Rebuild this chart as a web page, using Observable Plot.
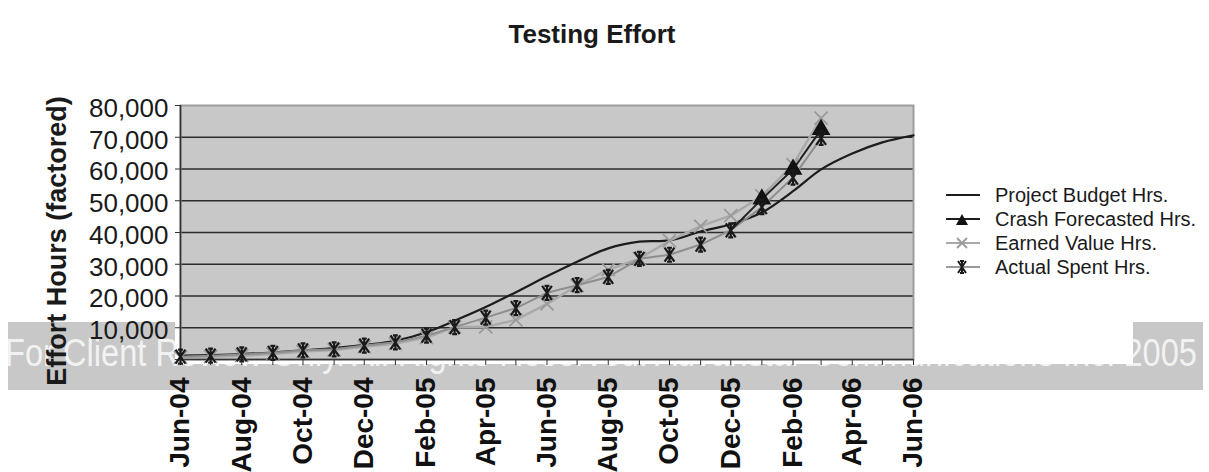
<!DOCTYPE html>
<html>
<head>
<meta charset="utf-8">
<script src="https://cdn.jsdelivr.net/npm/d3@7"></script>
<script src="https://cdn.jsdelivr.net/npm/@observablehq/plot@0.6"></script>
<style>
  html, body { margin: 0; padding: 0; background: #fff; }
  #wrap { position: relative; width: 1209px; height: 472px; overflow: hidden; font-family: "Liberation Sans", Arial, Helvetica, sans-serif; color: #1a1a1a; }
  #band { position: absolute; left: 8px; top: 322px; width: 1195px; height: 68px; background: #c8c8c8; z-index: 0; overflow: hidden; }
  #band span { position: absolute; left: -3px; top: 12px; font-size: 38px; line-height: 38px; color: #f2f2f2; white-space: nowrap; font-family: "Liberation Sans Narrow", "Liberation Sans", Arial, sans-serif; transform-origin: 0 0; }
  #whitebox { position: absolute; left: 175px; top: 300px; width: 958px; height: 64px; background: #fff; z-index: 1; }
  #chart { position: absolute; left: 0; top: 0; z-index: 2; }
  #title { position: absolute; top: 21px; left: 592px; transform: translateX(-50%); font-size: 26px; line-height: 26px; font-weight: bold; white-space: nowrap; z-index: 3; }
  #ylabel { position: absolute; left: 57px; top: 241px; transform: translate(-50%, -50%) rotate(-90deg); font-size: 27px; line-height: 27px; font-weight: bold; white-space: nowrap; z-index: 3; }
  .lg { position: absolute; left: 945px; height: 24px; display: flex; align-items: center; font-size: 20px; white-space: nowrap; z-index: 3; }
  .lg svg { margin-right: 14px; }
</style>
</head>
<body>
<div id="wrap">
  <div id="band"><span id="bandtext">For Client Review Only. All Rights Reserved. Advanstar Communications Inc. 2005</span></div>
  <div id="whitebox"></div>
  <div id="chart"></div>
  <div id="title">Testing Effort</div>
  <div id="ylabel">Effort Hours (factored)</div>
  <div id="legend"></div>
</div>
<script>
// ---- data ----
const months = ["2004-06","2004-07","2004-08","2004-09","2004-10","2004-11","2004-12",
                "2005-01","2005-02","2005-03","2005-04","2005-05","2005-06","2005-07",
                "2005-08","2005-09","2005-10","2005-11","2005-12","2006-01","2006-02",
                "2006-03","2006-04","2006-05","2006-06"];
const budgetHrs = [1200, 1400, 1700, 2200, 2900, 3600, 4600, 5900, 8600, 12200, 16500, 21200,
                   26200, 30800, 35000, 37100, 37500, 40300, 42600, 46300, 53000, 59900, 64900, 68400, 70600];
const earnedHrs = [700, 900, 1200, 1700, 2500, 3000, 4000, 5000, 6900, 10200, 10300, 12500,
                   17500, 23300, 28300, 31800, 37400, 42000, 45300, 51500, 61400, 76000];
const actualHrs = [900, 1200, 1600, 2100, 2900, 3200, 4400, 5400, 7500, 10200, 13200, 16200,
                   21000, 23400, 26000, 31700, 33000, 36200, 40700, 48000, 57300, 69800];
const crashMonths = ["2005-12", "2006-01", "2006-02", "2006-03"];
const crashHrs = [40700, 50500, 59900, 72400];
const yTicks = [0, 10000, 20000, 30000, 40000, 50000, 60000, 70000, 80000];
const yLabelTicks = [10000, 20000, 30000, 40000, 50000, 60000, 70000, 80000];
const gridValues = [10000, 20000, 30000, 40000, 50000, 60000, 70000];
const labelMonths = ["2004-06","2004-08","2004-10","2004-12","2005-02","2005-04","2005-06",
                     "2005-08","2005-10","2005-12","2006-02","2006-04","2006-06"];
const seriesNames = ["Project Budget Hrs.", "Crash Forecasted Hrs.", "Earned Value Hrs.", "Actual Spent Hrs."];

// ---- build tables ----
const parse = d3.utcParse("%Y-%m");
const monthDates = months.map(parse);
const table = (vals, dates) => vals.map((v, i) => ({date: dates[i], value: v}));
const budget = table(budgetHrs, monthDates);
const earned = table(earnedHrs, monthDates);
const actual = table(actualHrs, monthDates);
const crash = table(crashHrs, crashMonths.map(parse));
const labelDates = labelMonths.map(parse);

// Excel-like "star" marker: X + vertical bar with short caps
const starSymbol = {
  draw(ctx, size) {
    const r = Math.sqrt(size / Math.PI);
    ctx.moveTo(-r * 0.7, -r); ctx.lineTo(r * 0.7, r);
    ctx.moveTo(-r * 0.7, r); ctx.lineTo(r * 0.7, -r);
    ctx.moveTo(0, -r); ctx.lineTo(0, r);
    ctx.moveTo(-r * 0.35, -r); ctx.lineTo(r * 0.35, -r);
    ctx.moveTo(-r * 0.35, r); ctx.lineTo(r * 0.35, r);
  }
};

const fontFamily = "'Liberation Sans', Arial, Helvetica, sans-serif";
const chart = Plot.plot({
  width: 1209,
  height: 472,
  marginLeft: 180,
  marginRight: 296,
  marginTop: 105,
  marginBottom: 113,
  style: {background: "transparent", fontFamily, overflow: "visible", color: "#1a1a1a"},
  x: {type: "utc", domain: [monthDates[0], monthDates[monthDates.length - 1]]},
  y: {domain: [0, 80000]},
  marks: [
    Plot.frame({fill: "#c8c8c8", fillOpacity: 1, stroke: "none"}),
    Plot.gridY({ticks: gridValues, stroke: "#2b2b2b", strokeOpacity: 1, strokeWidth: 1.6}),
    Plot.frame({fill: "none", stroke: "#9d9d9d", strokeWidth: 2}),
    Plot.ruleX([monthDates[0]], {stroke: "#333", strokeWidth: 1.6}),
    Plot.ruleY([0], {stroke: "#333", strokeWidth: 1.6}),
    Plot.axisY({ticks: yTicks, tickFormat: () => "", tickSize: 5, color: "#333", label: null}),
    Plot.axisY({ticks: yLabelTicks, tickFormat: d3.format(","), tickSize: 0, tickPadding: 12,
                fontSize: 26, color: "#1a1a1a", dy: 3, label: null}),
    Plot.axisX({ticks: monthDates, tickFormat: () => "", tickSize: 6, color: "#333", label: null}),
    Plot.axisX({ticks: labelDates, tickFormat: d3.utcFormat("%b-%y"), tickSize: 0, tickPadding: 18,
                tickRotate: -90, fontSize: 28, fontWeight: "bold", color: "#111", label: null}),
    Plot.line(budget, {x: "date", y: "value", stroke: "#1c1c1c", strokeWidth: 2.2, curve: "catmull-rom"}),
    Plot.line(earned, {x: "date", y: "value", stroke: "#a9a9a9", strokeWidth: 2.4}),
    Plot.line(actual, {x: "date", y: "value", stroke: "#8e8e8e", strokeWidth: 2}),
    Plot.line(crash, {x: "date", y: "value", stroke: "#222", strokeWidth: 2}),
    Plot.dot(earned, {x: "date", y: "value", symbol: "times", r: 6, stroke: "#9a9a9a", strokeWidth: 1.8}),
    Plot.dot(crash.slice(1), {x: "date", y: "value", symbol: "triangle", r: 6, fill: "#111", stroke: "#111"}),
    Plot.dot(actual, {x: "date", y: "value", symbol: starSymbol, r: 7, stroke: "#1a1a1a", strokeWidth: 2.2})
  ]
});
document.getElementById("chart").appendChild(chart);

// fit the watermark band text to the band width
const bt = document.getElementById("bandtext");
const bw = bt.getBoundingClientRect().width;
bt.style.transform = `scaleX(${1192 / bw})`;

// ---- legend ----
const legendRows = [
  {name: seriesNames[0], line: "#1c1c1c", mark: null},
  {name: seriesNames[1], line: "#1c1c1c", mark: "triangle"},
  {name: seriesNames[2], line: "#a9a9a9", mark: "times"},
  {name: seriesNames[3], line: "#9a9a9a", mark: "star"}
];
const legend = document.getElementById("legend");
legendRows.forEach((row, i) => {
  const div = document.createElement("div");
  div.className = "lg";
  div.style.top = (183 + i * 24) + "px";
  let m = "";
  if (row.mark === "triangle") m = '<path d="M17,5 L23,16 L11,16 Z" fill="#111"/>';
  if (row.mark === "times") m = '<path d="M12,5 L22,15 M12,15 L22,5" stroke="#9a9a9a" stroke-width="1.8"/>';
  if (row.mark === "star") m = '<path d="M13,4 L21,16 M13,16 L21,4 M17,4 L17,16 M15,4 L19,4 M15,16 L19,16" stroke="#1a1a1a" stroke-width="2"/>';
  div.innerHTML = `<svg width="36" height="20"><line x1="1" x2="35" y1="10" y2="10" stroke="${row.line}" stroke-width="2.2"/>${m}</svg><span>${row.name}</span>`;
  legend.appendChild(div);
});
</script>
</body>
</html>
